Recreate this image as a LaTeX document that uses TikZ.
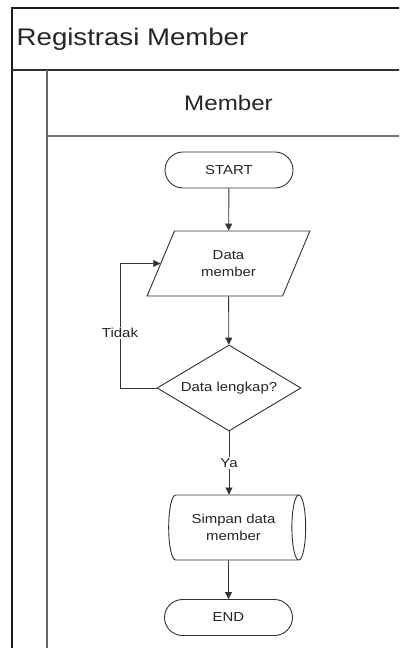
\documentclass[tikz,border=0pt]{standalone}
\usepackage{fontspec}
\setmainfont{Liberation Sans}[FakeStretch=1.15]
\usetikzlibrary{shapes.geometric,shapes.misc,arrows.meta}

\begin{document}
\begin{tikzpicture}[x=1pt,y=-1pt,thick,
  every node/.style={font=\fontsize{13}{17}\selectfont,text=black!85},
  flowbox/.style={draw=black!80,line width=0.9pt,fill=white,inner sep=0pt,align=center},
  termbox/.style={flowbox,shape=rounded rectangle,minimum width=128,minimum height=36},
  iobox/.style={flowbox,shape=trapezium,trapezium left angle=62,trapezium right angle=118,
    trapezium stretches=true,minimum width=163,minimum height=65},
  decbox/.style={flowbox,shape=diamond,aspect=1.67,minimum width=144,minimum height=86},
  storebox/.style={flowbox,shape=cylinder,aspect=0.52,minimum width=65,minimum height=137},
  flow/.style={draw=black!80,line width=0.9pt,-{Triangle[width=7pt,length=7pt]}},
  lbl/.style={fill=white,inner sep=1pt}]

\useasboundingbox [fill=white] (0,0) rectangle (399,648);

\begin{scope}

\clip (0,0) rectangle (399,648);

\draw [line width=1.5,black!90] (12,8) rectangle (420,670);

\draw [line width=2,black!80] (12,70) -- (420,70);

\draw [line width=2,black!60] (47,70) -- (47,670);

\draw [line width=2,black!55] (47,136) -- (420,136);

\end{scope}

\node [anchor=west,font=\fontsize{24}{28}\selectfont] (title) at (13,39) {Registrasi Member};

\node [font=\fontsize{21}{25}\selectfont] (lane) at (228.5,103) {Member};

\node [termbox] (start) at (229,170) {START};

\node [iobox] (data) at (228.5,263.5) {Data\\member};

\node [decbox] (dec) at (229,388) {Data lengkap?};

\node [storebox] (store) at (233.5,527.5) {Simpan data\\member};

\node [termbox] (end) at (228.5,617.5) {END};

\coordinate (loopc) at (120,388);

\draw [flow] (start) -- (data);

\draw [flow] (data) -- (dec);

\draw [flow] (dec.west) -- (loopc) |- node [lbl,pos=0.22] {Tidak} (data);

\draw [flow] (dec.south) -- node [lbl] {Ya} (dec.south |- store.north);

\draw [flow] (store.south -| end.north) -- (end);

\end{tikzpicture}
\end{document}
